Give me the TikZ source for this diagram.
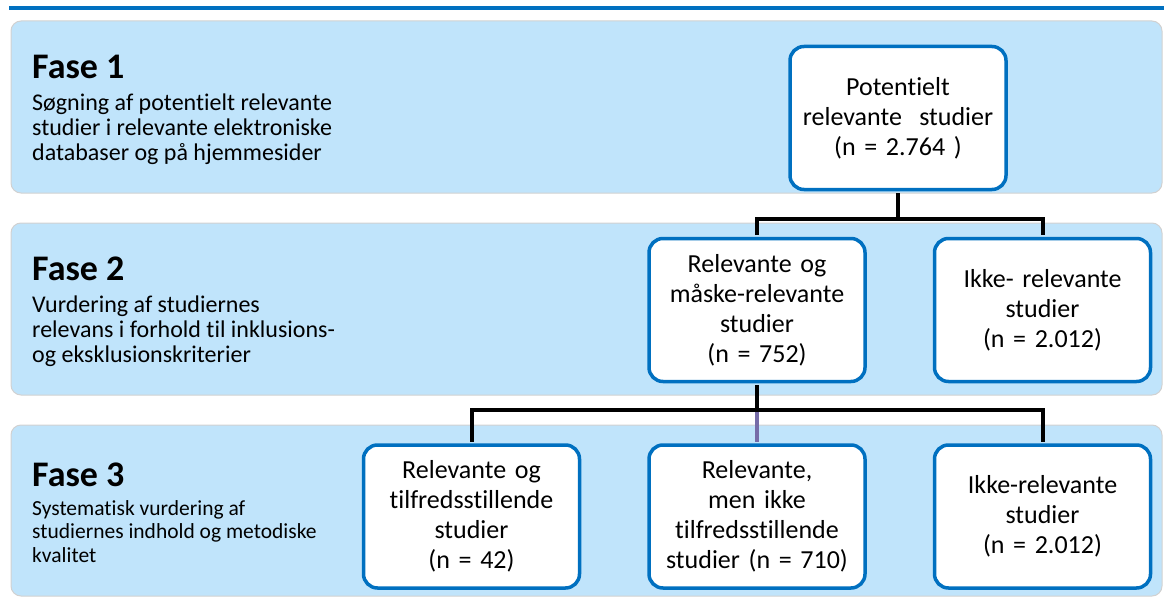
\documentclass[tikz,border=0pt]{standalone}
\usepackage{fontspec}
\setmainfont[Ligatures={NoCommon,NoRare}]{Carlito}
\usetikzlibrary{positioning}
\definecolor{boxblue}{RGB}{0,112,192}
\definecolor{bandblue}{RGB}{192,228,251}
\definecolor{midlink}{RGB}{118,108,168}
\tikzset{
  band/.style={fill=bandblue, draw=black!18, line width=1pt, rounded corners=10pt},
  stage/.style={draw=boxblue, line width=3.5pt, fill=white, rounded corners=14pt,
    minimum width=216pt, minimum height=143pt, text width=205pt, align=center,
    inner sep=0pt, font=\fontsize{26}{30}\selectfont},
  phasehead/.style={anchor=base west, inner sep=0pt, font=\fontsize{36}{40}\selectfont\bfseries},
  % base of a multi-line node is its last line
  phasetext/.style={anchor=base west, inner sep=0pt, align=left, font=\fontsize{24}{25}\selectfont},
  link/.style={draw=black, line width=4pt, shorten <=1.75pt, shorten >=1.75pt},
}
\begin{document}
\begin{tikzpicture}[x=1pt, y=-1pt, node distance=60pt and 66pt]
  \useasboundingbox (0,0) rectangle (1164,602);
  % top rule
  \draw[boxblue, line width=3.5pt] (9,8) -- (1164,8);
  % phase bands
  \path[band] (11,21) rectangle (1162,193);
  \path[band] (11,223) rectangle (1162,395);
  \path[band] (11,425) rectangle (1162,596);

  % phase labels
  \node[phasehead] (h1) at (32,78) {Fase 1};
  \node[phasetext] (t1) at (32,160) {Søgning af potentielt relevante\\studier i relevante elektroniske\\databaser og på hjemmesider};
  \node[phasehead] (h2) at (32,280) {Fase 2};
  \node[phasetext] (t2) at (32,362) {Vurdering af studiernes\\relevans i forhold til inklusions-\\og eksklusionskriterier};
  \node[phasehead] (h3) at (32,486) {Fase 3};
  \node[phasetext, font=\fontsize{21.5}{23.5}\selectfont] (t3) at (32,562) {Systematisk vurdering af\\studiernes indhold og metodiske\\kvalitet};

  % study boxes
  \node[stage] (p1) at (898,118) {Potentielt\\relevante\ \ studier\\(n = 2.764 )};
  \node[stage] (p2a) at (757,310) {Relevante og\\måske-relevante\\studier\\(n = 752)};
  \node[stage, right=of p2a] (p2b) {Ikke- relevante\\studier\\(n = 2.012)};
  \node[stage, below=of p2a] (p3b) {Relevante,\\men ikke\\tilfredsstillende\\studier (n = 710)};
  \node[stage, left=of p3b] (p3a) {Relevante og\\tilfredsstillende\\studier\\(n = 42)};
  \node[stage, right=of p3b] (p3c) {Ikke-relevante\\studier\\(n = 2.012)};

  % connectors
  \coordinate[below=28pt of p1.south] (j1);
  \coordinate[below=27pt of p2a.south] (j2);
  \draw[link] (p1.south) -- (j1);
  \draw[link] (p2a.north) |- (j1) -| (p2b.north);
  \draw[link] (p2a.south) -- (j2);
  \draw[link] (p3a.north) |- (j2) -| (p3c.north);
  \draw[link, draw=midlink, line width=3.5pt] (j2) -- (p3b.north);
\end{tikzpicture}
\end{document}
